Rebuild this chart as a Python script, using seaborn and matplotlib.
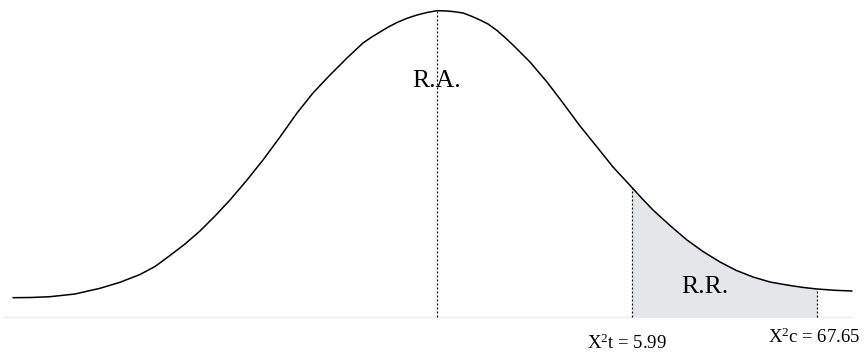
import numpy as np
import matplotlib
matplotlib.use("Agg")
import matplotlib.pyplot as plt
import seaborn as sns

# Curve (x: position, y: height above the base line)
curve_x = [-4.24, -4.06, -3.87, -3.62, -3.37, -3.17, -2.97, -2.82, -2.67, -2.52,
           -2.37, -2.22, -2.07, -1.90, -1.74, -1.57, -1.40, -1.24, -1.07, -0.90,
           -0.74, -0.66, -0.57, -0.49, -0.40, -0.30, -0.20, -0.10, 0.00, 0.10,
           0.18, 0.26, 0.34, 0.43, 0.51, 0.60, 0.68, 0.76, 0.84, 0.93,
           1.10, 1.26, 1.43, 1.60, 1.76, 1.95, 2.05, 2.16, 2.33, 2.50,
           2.66, 2.83, 2.99, 3.16, 3.33, 3.50, 3.65, 3.80, 3.98, 4.15]
curve_y = [0.193, 0.195, 0.203, 0.230, 0.287, 0.347, 0.425, 0.505, 0.615, 0.73,
           0.86, 1.01, 1.17, 1.37, 1.57, 1.80, 2.04, 2.24, 2.42, 2.59,
           2.74, 2.795, 2.85, 2.898, 2.945, 2.987, 3.02, 3.045, 3.063, 3.06,
           3.052, 3.04, 3.01, 2.97, 2.93, 2.865, 2.795, 2.72, 2.64, 2.55,
           2.35, 2.14, 1.91, 1.70, 1.50, 1.295, 1.185, 1.07, 0.915, 0.77,
           0.655, 0.55, 0.467, 0.40, 0.35, 0.32, 0.297, 0.28, 0.267, 0.26]

# Critical values (tabulated and calculated chi-square)
center_x = 0.0
crit_x = [1.95, 3.80]
crit_labels = [r"X$^{2}$t = 5.99", r"X$^{2}$c = 67.65"]
region_labels = ["R.A.", "R.R."]

sns.set_style("white")
plt.rcParams["font.family"] = ["Liberation Serif", "DejaVu Serif"]
plt.rcParams["mathtext.fontset"] = "custom"
plt.rcParams["mathtext.rm"] = "Liberation Serif"
plt.rcParams["mathtext.it"] = "Liberation Serif"

cx = np.array(curve_x)
cy = np.array(curve_y)

fig = plt.figure(figsize=(8.64, 3.52), dpi=100)
ax = fig.add_axes([0, 0, 1, 1])

# base line
ax.plot([-4.34, 4.15], [0, 0], color="#eeeeee", lw=1.0, zorder=1)

# rejection region shading
mask = (cx >= crit_x[0]) & (cx <= crit_x[1])
ax.fill_between(cx[mask], 0, cy[mask], color="#e5e6e8", lw=0, zorder=1)

sns.lineplot(x=cx, y=cy, ax=ax, color="black", lw=1.1, sort=False, zorder=3)

# dotted verticals
for xv in [center_x] + crit_x:
    top = np.interp(xv, cx, cy)
    ax.plot([xv, xv], [0, top], color="black", lw=0.9,
            linestyle=(0, (1.6, 1.6)), zorder=2)

ax.text(center_x, 2.30, region_labels[0], ha="center", va="baseline",
        fontsize=18.5, color="black")
ax.text(2.68, 0.24, region_labels[1], ha="center", va="baseline",
        fontsize=18.5, color="black")
ax.text(1.895, -0.322, crit_labels[0], ha="center", va="baseline",
        fontsize=13.5, color="black")
ax.text(3.77, -0.26, crit_labels[1], ha="center", va="baseline",
        fontsize=13.5, color="black")

ax.set_xlim(-4.37, 4.27)
ax.set_ylim(-0.35, 3.17)
ax.axis("off")

fig.savefig("out.png", dpi=100)
